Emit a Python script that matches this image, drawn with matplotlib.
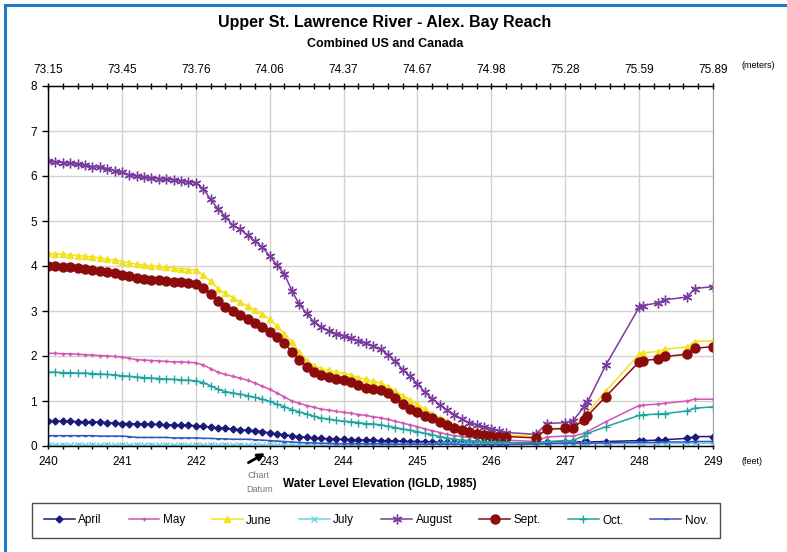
import numpy as np
import matplotlib
matplotlib.use("Agg")
import matplotlib.pyplot as plt
from matplotlib.lines import Line2D
from matplotlib.ticker import MultipleLocator

plt.rcParams['font.family'] = ['Liberation Sans Narrow', 'Liberation Sans', 'DejaVu Sans']

# ---------- data (feet of water level vs. value) ----------
feet_dense = [240.0, 240.1, 240.2, 240.3, 240.4, 240.5, 240.6, 240.7, 240.8, 240.9,
              241.0, 241.1, 241.2, 241.3, 241.4, 241.5, 241.6, 241.7, 241.8, 241.9,
              242.0, 242.1, 242.2, 242.3, 242.4, 242.5, 242.6, 242.7, 242.8, 242.9,
              243.0, 243.1, 243.2, 243.3, 243.4, 243.5, 243.6, 243.7, 243.8, 243.9,
              244.0, 244.1, 244.2, 244.3, 244.4, 244.5, 244.6, 244.7, 244.8, 244.9,
              245.0, 245.1, 245.2, 245.3, 245.4, 245.5, 245.6, 245.7, 245.8, 245.9,
              246.0, 246.1, 246.2]
feet_sparse = [246.6, 246.75, 247.0, 247.1, 247.25, 247.3, 247.55,
               248.0, 248.05, 248.25, 248.35, 248.65, 248.75, 249.0]
feet = feet_dense + feet_sparse

april = [0.55, 0.55, 0.55, 0.55, 0.54, 0.54, 0.54, 0.53, 0.52, 0.51,
         0.50, 0.50, 0.49, 0.49, 0.48, 0.48, 0.47, 0.47, 0.46, 0.46,
         0.45, 0.44, 0.42, 0.40, 0.39, 0.38, 0.36, 0.35, 0.34, 0.32,
         0.29, 0.27, 0.25, 0.23, 0.21, 0.19, 0.18, 0.17, 0.16, 0.15,
         0.15, 0.14, 0.14, 0.13, 0.13, 0.12, 0.12, 0.11, 0.11, 0.10,
         0.10, 0.10, 0.09, 0.09, 0.09, 0.08, 0.08, 0.08, 0.08, 0.08,
         0.07, 0.07, 0.07,
         0.07, 0.09, 0.10, 0.10, 0.09, 0.09, 0.10, 0.12, 0.12, 0.13, 0.14, 0.17, 0.21, 0.21]
may = [2.06, 2.06, 2.05, 2.05, 2.04, 2.03, 2.02, 2.01, 2.00, 1.99,
       1.98, 1.95, 1.92, 1.91, 1.90, 1.89, 1.88, 1.87, 1.87, 1.86,
       1.85, 1.80, 1.72, 1.64, 1.59, 1.55, 1.51, 1.46, 1.40, 1.33,
       1.26, 1.18, 1.09, 1.00, 0.95, 0.90, 0.86, 0.82, 0.80, 0.77,
       0.75, 0.73, 0.70, 0.68, 0.65, 0.63, 0.59, 0.55, 0.51, 0.47,
       0.43, 0.38, 0.34, 0.30, 0.26, 0.23, 0.21, 0.19, 0.18, 0.17,
       0.15, 0.14, 0.13,
       0.10, 0.20, 0.22, 0.22, 0.28, 0.32, 0.54, 0.90, 0.91, 0.93, 0.95, 1.00, 1.04, 1.04]
june = [4.28, 4.27, 4.26, 4.25, 4.23, 4.22, 4.20, 4.18, 4.15, 4.13,
        4.10, 4.07, 4.04, 4.02, 4.00, 3.99, 3.97, 3.95, 3.94, 3.92,
        3.91, 3.80, 3.66, 3.50, 3.40, 3.30, 3.20, 3.11, 3.02, 2.93,
        2.82, 2.66, 2.48, 2.32, 2.10, 1.90, 1.78, 1.72, 1.68, 1.64,
        1.61, 1.58, 1.52, 1.48, 1.44, 1.40, 1.32, 1.22, 1.12, 1.02,
        0.93, 0.82, 0.72, 0.62, 0.55, 0.47, 0.42, 0.38, 0.35, 0.32,
        0.29, 0.27, 0.25,
        0.21, 0.39, 0.39, 0.40, 0.65, 0.74, 1.22, 2.04, 2.07, 2.10, 2.15, 2.20, 2.32, 2.34]
july = [0.02, 0.02, 0.02, 0.02, 0.02, 0.02, 0.02, 0.02, 0.02, 0.02,
        0.02, 0.02, 0.02, 0.02, 0.02, 0.02, 0.02, 0.02, 0.02, 0.02,
        0.02, 0.02, 0.02, 0.02, 0.02, 0.02, 0.02, 0.02, 0.02, 0.02,
        0.02, 0.02, 0.02, 0.02, 0.02, 0.02, 0.02, 0.02, 0.02, 0.02,
        0.02, 0.02, 0.02, 0.02, 0.02, 0.02, 0.02, 0.03, 0.03, 0.03,
        0.03, 0.03, 0.03, 0.04, 0.04, 0.04, 0.04, 0.04, 0.04, 0.04,
        0.04, 0.04, 0.04,
        0.04, 0.05, 0.05, 0.05, 0.05, 0.05, 0.05, 0.05, 0.05, 0.05, 0.05, 0.06, 0.06, 0.06]
august = [6.33, 6.31, 6.30, 6.28, 6.26, 6.24, 6.21, 6.19, 6.16, 6.12,
          6.08, 6.03, 5.99, 5.97, 5.95, 5.94, 5.93, 5.91, 5.89, 5.87,
          5.84, 5.72, 5.48, 5.27, 5.10, 4.90, 4.82, 4.68, 4.55, 4.42,
          4.22, 4.02, 3.82, 3.45, 3.15, 2.95, 2.75, 2.65, 2.56, 2.50,
          2.44, 2.39, 2.34, 2.28, 2.22, 2.15, 2.03, 1.88, 1.70, 1.55,
          1.38, 1.20, 1.05, 0.92, 0.80, 0.70, 0.60, 0.52, 0.47, 0.42,
          0.38, 0.34, 0.30,
          0.26, 0.50, 0.52, 0.55, 0.86, 0.97, 1.80, 3.08, 3.12, 3.18, 3.25, 3.31, 3.50, 3.54]
sept = [4.00, 3.99, 3.98, 3.97, 3.96, 3.94, 3.92, 3.89, 3.87, 3.84,
        3.81, 3.77, 3.74, 3.72, 3.70, 3.69, 3.67, 3.65, 3.64, 3.63,
        3.61, 3.52, 3.38, 3.22, 3.08, 2.99, 2.91, 2.82, 2.74, 2.64,
        2.54, 2.42, 2.28, 2.10, 1.92, 1.76, 1.65, 1.57, 1.53, 1.49,
        1.46, 1.42, 1.36, 1.30, 1.26, 1.24, 1.17, 1.06, 0.93, 0.82,
        0.75, 0.67, 0.62, 0.54, 0.47, 0.41, 0.35, 0.31, 0.27, 0.24,
        0.22, 0.21, 0.21,
        0.18, 0.37, 0.39, 0.39, 0.58, 0.67, 1.10, 1.87, 1.90, 1.93, 1.99, 2.04, 2.17, 2.21]
octo = [1.64, 1.64, 1.63, 1.63, 1.62, 1.62, 1.61, 1.60, 1.59, 1.58,
        1.56, 1.55, 1.53, 1.52, 1.51, 1.50, 1.49, 1.48, 1.47, 1.46,
        1.45, 1.41, 1.34, 1.26, 1.21, 1.18, 1.15, 1.12, 1.08, 1.04,
        0.99, 0.93, 0.87, 0.81, 0.76, 0.71, 0.66, 0.62, 0.60, 0.57,
        0.55, 0.54, 0.52, 0.50, 0.49, 0.47, 0.44, 0.41, 0.38, 0.35,
        0.32, 0.28, 0.25, 0.21, 0.18, 0.15, 0.13, 0.12, 0.11, 0.10,
        0.09, 0.08, 0.08,
        0.06, 0.10, 0.12, 0.12, 0.22, 0.28, 0.43, 0.68, 0.69, 0.71, 0.72, 0.78, 0.84, 0.87]
nov = [0.23, 0.23, 0.23, 0.23, 0.23, 0.23, 0.23, 0.22, 0.22, 0.22,
       0.22, 0.21, 0.19, 0.19, 0.19, 0.19, 0.19, 0.18, 0.18, 0.18,
       0.18, 0.17, 0.17, 0.16, 0.16, 0.15, 0.15, 0.15, 0.14, 0.13,
       0.12, 0.11, 0.10, 0.09, 0.08, 0.07, 0.07, 0.06, 0.06, 0.05,
       0.05, 0.05, 0.05, 0.05, 0.05, 0.05, 0.04, 0.04, 0.04, 0.04,
       0.04, 0.04, 0.04, 0.04, 0.04, 0.04, 0.03, 0.03, 0.03, 0.03,
       0.03, 0.03, 0.03,
       0.04, 0.05, 0.06, 0.06, 0.06, 0.06, 0.07, 0.08, 0.08, 0.08, 0.09, 0.09, 0.10, 0.10]

months = ["April", "May", "June", "July", "August", "Sept.", "Oct.", "Nov."]
series = [april, may, june, july, august, sept, octo, nov]

feet_ticks = [240, 241, 242, 243, 244, 245, 246, 247, 248, 249]
meter_labels = ["73.15", "73.45", "73.76", "74.06", "74.37", "74.67",
                "74.98", "75.28", "75.59", "75.89"]

# ---------- styles ----------
styles = [
    dict(color="#1c1a78", marker="D", ms=3.5),
    dict(color="#d254b4", marker="+", ms=3.5),
    dict(color="#f2e21e", marker="^", ms=4.5),
    dict(color="#6fd3e3", marker="x", ms=4),
    dict(color="#7a3b9e", marker=(6, 2, 0), ms=7),
    dict(color="#8c0c0c", marker="o", ms=6.5),
    dict(color="#1fa3a0", marker="+", ms=6),
    dict(color="#3a52c4", marker="_", ms=3.5),
]

fig = plt.figure(figsize=(7.87, 5.52), dpi=100)
ax = fig.add_axes([48 / 787, 1 - 446 / 552, 665 / 787, 360 / 552])

for vals, name, st in zip(series, months, styles):
    ax.plot(feet, vals, linestyle="-", lw=1.1, color=st["color"], marker=st["marker"],
            ms=st["ms"], mec=st["color"], mfc=st["color"], mew=1.0, label=name)

ax.set_xlim(240, 249)
ax.set_ylim(0, 8)
ax.set_xticks(feet_ticks)
ax.xaxis.set_minor_locator(MultipleLocator(0.2))
ax.set_yticks(range(0, 9))
ax.grid(True, color="#d2d2d2", lw=1.0)
ax.set_axisbelow(True)
ax.tick_params(axis="x", which="both", direction="inout", length=5, width=1, labelsize=8.5, pad=5)
ax.tick_params(axis="x", which="minor", length=4)
ax.tick_params(axis="y", direction="out", length=4, width=1, labelsize=8.5, pad=4)
ax.spines["right"].set_color("#a0a0a0")
for s in ["left", "bottom", "top"]:
    ax.spines[s].set_color("#222222")
    ax.spines[s].set_linewidth(1.0)

# meters on top
top = ax.twiny()
top.set_xlim(ax.get_xlim())
top.set_xticks(feet_ticks)
top.set_xticklabels(meter_labels)
top.xaxis.set_minor_locator(MultipleLocator(0.2))
top.tick_params(axis="x", which="both", direction="inout", length=5, width=1, labelsize=8.5, pad=5)
top.tick_params(axis="x", which="minor", length=4)
top.spines["right"].set_visible(False)

# ---------- text ----------
fig.text(0.489, 0.960, "Upper St. Lawrence River - Alex. Bay Reach", ha="center", va="center",
         fontsize=11.5, fontweight="bold")
fig.text(0.489, 0.920, "Combined US and Canada", ha="center", va="center",
         fontsize=9, fontweight="bold")
fig.text(0.483, 1 - 484 / 552, "Water Level Elevation (IGLD, 1985)", ha="center", va="center",
         fontsize=8.5, fontweight="bold")
fig.text(758 / 787, 1 - 66 / 552, "(meters)", ha="center", va="center", fontsize=6.5)
fig.text(752 / 787, 1 - 462 / 552, "(feet)", ha="center", va="center", fontsize=6.5)
fig.text(258 / 787, 1 - 475 / 552, "Chart", ha="center", va="center", fontsize=6.5, color="#777777")
fig.text(260 / 787, 1 - 489 / 552, "Datum", ha="center", va="center", fontsize=6.5, color="#777777")
ax.annotate("", xy=(242.97, -0.13), xytext=(242.68, -0.40), annotation_clip=False,
            arrowprops=dict(arrowstyle="-|>", color="black", lw=2.0, mutation_scale=10))

# ---------- legend ----------
handles = [Line2D([], [], color=st["color"], marker=st["marker"], ms=st["ms"],
                  mec=st["color"], mfc=st["color"], lw=1.1) for st in styles]
leg = fig.legend(handles, months, loc="center", ncol=8, mode="expand",
                 bbox_to_anchor=(32 / 787, 1 - 538 / 552, 688 / 787, 35 / 552),
                 frameon=True, fancybox=False, fontsize=8.5, handlelength=2.6,
                 handletextpad=0.3, borderaxespad=0, borderpad=1.0)
leg.get_frame().set_edgecolor("#222222")
leg.get_frame().set_linewidth(1.0)

# blue page border (top and left)
fig.add_artist(Line2D([5 / 787, 5 / 787], [0, 1 - 5 / 552], color="#1f7bc8", lw=2.2,
                      transform=fig.transFigure))
fig.add_artist(Line2D([5 / 787, 1], [1 - 5 / 552, 1 - 5 / 552], color="#1f7bc8", lw=2.2,
                      transform=fig.transFigure))

fig.savefig("out.png", dpi=100)
